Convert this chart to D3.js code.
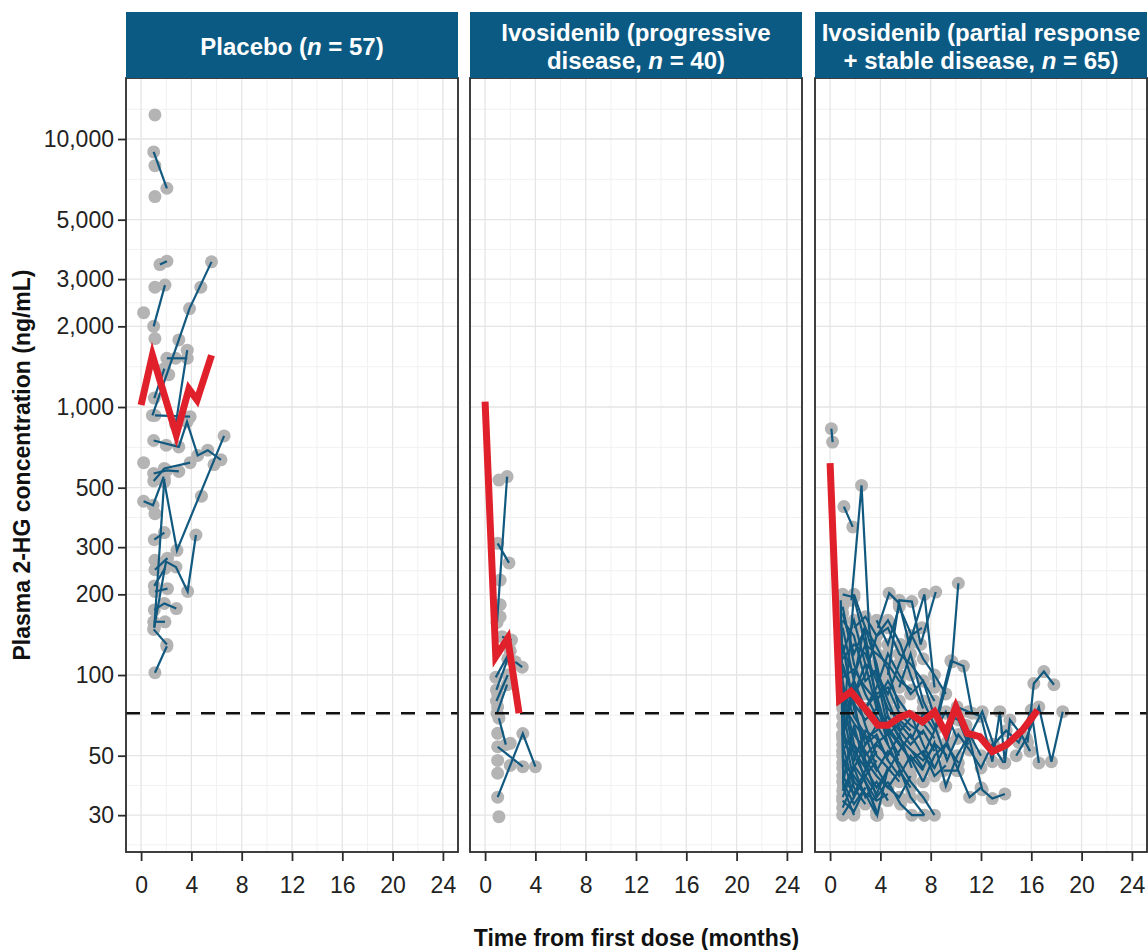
<!DOCTYPE html>
<html>
<head>
<meta charset="utf-8">
<script src="https://cdn.jsdelivr.net/npm/d3@7"></script>
<style>
  body { margin: 0; background: #fff; }
  text { font-family: "Liberation Sans", Arial, sans-serif; }
</style>
</head>
<body>
<svg id="chart" width="1148" height="950"></svg>
<script>
// Strip labels: odd parts are italic.
const stripLabels = [
  [["Placebo (", "n", " = 57)"]],
  [["Ivosidenib (progressive"], ["disease, ", "n", " = 40)"]],
  [["Ivosidenib (partial response"], ["+ stable disease, ", "n", " = 65)"]]
];

const xTicks = [0, 4, 8, 12, 16, 20, 24];
const yTicks = [30, 50, 100, 200, 300, 500, 1000, 2000, 3000, 5000, 10000];
const threshold = 72;

// Individual patients: [month, ng/mL]
const placeboSubjects = [
  [[1.1, 12300]],
  [[1.0, 8950], [2.05, 6550]],
  [[1.1, 7950]],
  [[1.1, 6100]],
  [[1.5, 3400], [2.05, 3500]],
  [[1.0, 2000], [1.9, 2850]],
  [[1.1, 2800]],
  [[0.2, 2250]],
  [[0.9, 930], [3.0, 1780], [3.85, 2330], [5.6, 3480]],
  [[4.75, 2800]],
  [[1.1, 1800]],
  [[1.05, 1080], [1.85, 1390]],
  [[2.75, 860], [3.67, 1630]],
  [[2.05, 1520], [2.75, 1520], [3.67, 1520]],
  [[2.2, 1320]],
  [[1.1, 930], [3.9, 920]],
  [[1.0, 750], [3.0, 710], [3.65, 880], [4.5, 660], [5.3, 690], [6.35, 635]],
  [[1.85, 525], [2.85, 292], [6.6, 780]],
  [[5.8, 610]],
  [[0.2, 620]],
  [[0.2, 445], [0.95, 430], [1.8, 550]],
  [[1.0, 530], [1.85, 590], [3.9, 620]],
  [[1.0, 565], [2.05, 580], [3.0, 575]],
  [[2.0, 720]],
  [[1.05, 150], [1.85, 540]],
  [[1.05, 151], [1.98, 265], [2.77, 253], [3.7, 205], [4.36, 333]],
  [[1.05, 320], [1.85, 340]],
  [[1.05, 215], [1.9, 250]],
  [[1.05, 175], [1.85, 185], [2.8, 177]],
  [[1.0, 158], [1.9, 158]],
  [[1.0, 148], [2.05, 130]],
  [[1.1, 102], [2.05, 128]],
  [[4.8, 465]],
  [[1.1, 400]],
  [[1.1, 247], [2.1, 273]],
  [[1.1, 205], [2.1, 210]],
  [[1.1, 268]]
];

const pdSubjects = [
  [[0.95, 157], [1.75, 550]],
  [[1.1, 534]],
  [[1.0, 310], [1.9, 262]],
  [[1.2, 226]],
  [[1.2, 183]],
  [[1.2, 165]],
  [[1.35, 139], [2.1, 135]],
  [[0.85, 98], [2.0, 123]],
  [[0.9, 88], [1.8, 115]],
  [[0.9, 80], [1.8, 100]],
  [[0.95, 72], [1.75, 92]],
  [[2.4, 112], [2.95, 107]],
  [[1.1, 69], [1.65, 55]],
  [[1.0, 54], [3.0, 45.5]],
  [[1.0, 35], [3.0, 60.5], [4.0, 45.5]],
  [[1.0, 60.6]],
  [[1.0, 48]],
  [[1.0, 43]],
  [[1.1, 29.6]],
  [[1.0, 76]],
  [[1.0, 85]],
  [[2.0, 46]],
  [[2.0, 55.6]]
];

const prsdSubjects = [
  [[0.1, 830], [0.2, 740]],
  [[1.1, 425], [1.8, 357]],
  [[1.7, 190], [2.5, 510], [3.1, 150], [3.9, 90], [4.7, 60]],
  [[1.0, 200], [1.9, 195], [2.8, 130], [3.7, 80], [4.6, 55]],
  [[0.85, 190], [1.05, 60], [2.7, 150], [3.5, 90], [4.4, 65], [5.4, 48]],
  [[1.0, 170], [1.9, 120], [2.8, 150], [3.7, 110], [4.6, 70], [5.6, 58]],
  [[3.8, 150], [4.7, 202], [5.5, 185], [6.3, 130], [7.5, 200], [8.3, 90]],
  [[4.6, 100], [5.5, 190], [6.5, 188], [7.2, 130], [8.4, 204]],
  [[1.0, 60], [1.9, 200], [2.8, 150], [3.6, 130], [4.6, 105], [5.5, 75]],
  [[7.4, 50], [8.3, 62], [9.7, 112], [10.2, 220]],
  [[8.5, 70], [9.6, 113], [10.6, 108], [11.3, 72]],
  [[1.0, 180], [1.9, 110], [2.8, 85], [3.7, 70], [4.6, 60], [5.5, 50]],
  [[1.0, 160], [1.9, 140], [2.8, 95], [3.7, 105], [4.6, 80], [5.6, 62], [6.5, 70], [7.4, 55], [8.3, 45]],
  [[0.9, 140], [1.05, 60], [1.9, 90], [2.8, 65], [3.7, 50], [4.6, 45], [5.5, 40]],
  [[1.0, 130], [1.9, 75], [2.8, 55], [3.7, 60], [4.6, 48]],
  [[1.0, 120], [1.9, 160], [2.8, 110], [3.7, 75], [4.6, 62], [5.5, 55], [6.5, 48], [7.4, 40]],
  [[1.0, 110], [1.9, 80], [2.8, 48], [3.7, 35], [4.6, 40]],
  [[0.9, 100], [1.05, 40], [1.9, 65], [2.8, 45], [3.7, 55], [4.6, 50], [5.5, 60], [6.5, 45]],
  [[1.0, 95], [1.9, 55], [2.8, 40], [3.7, 31]],
  [[1.0, 90], [1.9, 70], [2.8, 60], [3.7, 45], [4.6, 38], [5.5, 35], [6.4, 42]],
  [[1.0, 85], [1.9, 50], [2.8, 42], [3.7, 48]],
  [[1.0, 80], [1.9, 95], [2.8, 72], [3.7, 65], [4.6, 70], [5.5, 58], [6.5, 52], [7.4, 48], [8.4, 55], [9.3, 50]],
  [[1.0, 75], [1.9, 45], [2.8, 35], [3.7, 40], [4.6, 34]],
  [[1.0, 70], [1.9, 60], [2.8, 52], [3.7, 44], [4.6, 52], [5.5, 47], [6.4, 40], [7.4, 35], [8.3, 30]],
  [[1.0, 65], [1.9, 40], [2.8, 36], [3.7, 34]],
  [[1.0, 60], [1.9, 52], [2.8, 45], [3.7, 38], [4.6, 44], [5.5, 52], [6.4, 60], [7.4, 50], [8.3, 45], [9.2, 55], [10.2, 47]],
  [[1.0, 55], [1.9, 38], [2.8, 33]],
  [[1.0, 52], [1.9, 62], [2.8, 50], [3.7, 56], [4.6, 60], [5.5, 66], [6.5, 58], [7.4, 72], [8.3, 62], [9.2, 73], [10.1, 58]],
  [[1.0, 50], [1.9, 35], [2.8, 42], [3.7, 36], [4.6, 45]],
  [[1.0, 47], [1.9, 42], [2.8, 36], [3.7, 30]],
  [[1.0, 45], [1.9, 55], [2.8, 48], [3.7, 42], [4.6, 38], [5.5, 44], [6.4, 38]],
  [[1.0, 42], [1.9, 36], [2.8, 44], [3.7, 52]],
  [[1.0, 40], [1.9, 33], [2.8, 38]],
  [[1.0, 37], [1.9, 46], [2.8, 40], [3.7, 34], [4.6, 36]],
  [[1.0, 34], [1.9, 31], [2.8, 38]],
  [[1.0, 32], [1.9, 40], [2.8, 36]],
  [[1.0, 30], [1.9, 35]],
  [[0.9, 160], [1.05, 38], [1.9, 30]],
  [[2.8, 40], [3.75, 30], [4.6, 45]],
  [[4.6, 40], [5.6, 33], [6.5, 30], [7.5, 30]],
  [[8.3, 75], [9.3, 56], [10.1, 76], [11.0, 73], [12.0, 70], [12.9, 47.5], [13.5, 73], [13.9, 47], [14.3, 68], [15.2, 60], [15.9, 52]],
  [[9.0, 44], [10.1, 44], [11.0, 58], [12.1, 73], [13.0, 55], [14.0, 62], [15.0, 56], [16.0, 74], [16.6, 47]],
  [[15.7, 56], [16.2, 93], [17.0, 103], [17.8, 92]],
  [[14.8, 50], [15.6, 58], [16.6, 76], [17.6, 47.5], [18.5, 73]],
  [[10.8, 65], [12.1, 37.3], [12.9, 34.6], [13.9, 36]],
  [[5.5, 90], [6.4, 120], [7.4, 80], [8.3, 65], [9.3, 48], [10.2, 60], [11.1, 52.5], [12.0, 45], [12.9, 55], [13.8, 47]],
  [[6.5, 52], [7.4, 45], [8.3, 56], [9.2, 38.5], [10.1, 50], [11.1, 60], [12.0, 50]],
  [[2.8, 75], [3.7, 90], [4.6, 120], [5.5, 100], [6.4, 85], [7.4, 95], [8.3, 70], [9.2, 72], [10.2, 68], [11.0, 55]],
  [[1.0, 60], [1.9, 85], [2.8, 100], [3.7, 140], [4.6, 160], [5.6, 130], [6.4, 100], [7.4, 75]],
  [[3.7, 160], [4.6, 130], [5.5, 180], [6.5, 140], [7.4, 115], [8.3, 100], [9.2, 85]],
  [[1.0, 150], [1.9, 95], [2.8, 75], [3.7, 85], [4.6, 90], [5.5, 72], [6.4, 65], [7.4, 60]],
  [[7.4, 40], [8.3, 50], [9.3, 56], [10.2, 44], [11.1, 35], [12.0, 38]],
  [[1.0, 35], [1.9, 45], [2.8, 55], [3.7, 65], [4.6, 55], [5.5, 45], [6.4, 35], [7.5, 30]],
  [[1.0, 115], [1.9, 130], [2.8, 120], [3.7, 95], [4.6, 75], [5.5, 68], [6.4, 62]],
  [[1.0, 98], [1.9, 105], [2.8, 90], [3.7, 80], [4.6, 95], [5.5, 80], [6.4, 70], [7.4, 66], [8.3, 58]],
  [[1.0, 125], [1.9, 100], [2.8, 130], [3.7, 120], [4.6, 110], [5.5, 95], [6.5, 88]],
  [[1.9, 150], [2.8, 165], [3.7, 140], [4.6, 150], [5.5, 120], [6.4, 110], [7.4, 95], [8.3, 80]],
  [[1.0, 105], [1.9, 85], [2.8, 110], [3.7, 100], [4.6, 85], [5.5, 110], [6.4, 140], [7.3, 150]],
  [[1.0, 88], [1.9, 78], [2.8, 68], [3.7, 75], [4.6, 64], [5.5, 56], [6.4, 48], [7.4, 52], [8.3, 42], [9.2, 46]],
  [[1.0, 78], [1.9, 66], [2.8, 58], [3.7, 62], [4.6, 70], [5.5, 62], [6.4, 55], [7.4, 62], [8.3, 52]],
  [[1.0, 58], [1.9, 48], [2.8, 62], [3.7, 58], [4.6, 48], [5.5, 42], [6.4, 50], [7.4, 44]]
];

// Median lines
const placeboMedian = [[0, 1018], [0.9, 1560], [2.8, 787], [3.8, 1169], [4.45, 1062], [5.6, 1560]];
const pdMedian = [[0, 1047], [0.85, 117], [1.8, 137], [2.7, 72]];
const prsdMedian = [[0, 617], [0.75, 80.7], [1.65, 86.7], [3.0, 72.9], [3.8, 64.9], [4.6, 64.9], [5.4, 68.9],
  [6.3, 71.9], [7.35, 66.9], [8.3, 72.9], [9.2, 60.6], [10.0, 76.1], [10.9, 60.6], [11.9, 58.9],
  [12.9, 51.8], [14.0, 54.8], [15.3, 62.3], [16.5, 74]];

const subjects = [placeboSubjects, pdSubjects, prsdSubjects];
const medians = [placeboMedian, pdMedian, prsdMedian];

// Layout
const panelLefts = [126, 470, 815];
const panelW = 332;
const stripTop = 12, panelTop = 78, panelBottom = 852;

const svg = d3.select("#chart");
const x = d3.scaleLinear().domain([-1.2, 25.2]).range([0, panelW]);
const y = d3.scaleLog().domain([21.86, 16890]).range([panelBottom, panelTop]);

// minor breaks, ggplot style: midpoints in transformed space, extended one step past the ends
function minorBreaks(b, tf, inv) {
  const t = b.map(tf);
  const d = t[1] - t[0];
  const ext = [t[0] - d].concat(t, [t[t.length - 1] + d]);
  const out = [];
  for (let i = 0; i < ext.length - 1; i++) out.push(inv((ext[i] + ext[i + 1]) / 2));
  return out;
}
const yMinor = minorBreaks(yTicks, Math.log10, v => Math.pow(10, v))
  .filter(v => v > y.domain()[0] && v < y.domain()[1]);
const xMinor = minorBreaks(xTicks, v => v, v => v)
  .filter(v => v > x.domain()[0] && v < x.domain()[1]);

const line = d3.line().x(d => x(d[0])).y(d => y(d[1]));

panelLefts.forEach((left, i) => {
  const g = svg.append("g").attr("transform", "translate(" + left + ",0)");

  g.append("rect").attr("x", 0).attr("y", panelTop).attr("width", panelW)
    .attr("height", panelBottom - panelTop).attr("fill", "#fff");

  // grid
  g.selectAll(".ymin").data(yMinor).enter().append("line")
    .attr("x1", 0).attr("x2", panelW).attr("y1", d => y(d)).attr("y2", d => y(d))
    .attr("stroke", "#EFEFEF").attr("stroke-width", 0.9);
  g.selectAll(".xmin").data(xMinor).enter().append("line")
    .attr("y1", panelTop).attr("y2", panelBottom).attr("x1", d => x(d)).attr("x2", d => x(d))
    .attr("stroke", "#EFEFEF").attr("stroke-width", 0.9);
  g.selectAll(".ymaj").data(yTicks).enter().append("line")
    .attr("x1", 0).attr("x2", panelW).attr("y1", d => y(d)).attr("y2", d => y(d))
    .attr("stroke", "#E5E5E5").attr("stroke-width", 1.3);
  g.selectAll(".xmaj").data(xTicks).enter().append("line")
    .attr("y1", panelTop).attr("y2", panelBottom).attr("x1", d => x(d)).attr("x2", d => x(d))
    .attr("stroke", "#E5E5E5").attr("stroke-width", 1.3);

  // points
  const pts = subjects[i].flat();
  g.selectAll(".pt").data(pts).enter().append("circle")
    .attr("cx", d => x(d[0])).attr("cy", d => y(d[1])).attr("r", 6.5)
    .attr("fill", "#B4B4B4");

  // individual lines
  g.selectAll(".subj").data(subjects[i].filter(s => s.length > 1)).enter().append("path")
    .attr("d", line).attr("fill", "none").attr("stroke", "#12597F").attr("stroke-width", 2.2);

  // threshold
  g.append("line").attr("x1", 0).attr("x2", panelW)
    .attr("y1", y(threshold)).attr("y2", y(threshold))
    .attr("stroke", "#111").attr("stroke-width", 2.6).attr("stroke-dasharray", "14,11");

  // median
  g.append("path").attr("d", line(medians[i])).attr("fill", "none")
    .attr("stroke", "#E0202A").attr("stroke-width", 7).attr("stroke-linejoin", "miter");

  // border
  g.append("rect").attr("x", 0).attr("y", panelTop).attr("width", panelW)
    .attr("height", panelBottom - panelTop).attr("fill", "none")
    .attr("stroke", "#2b2b2b").attr("stroke-width", 1.8);

  // strip
  g.append("rect").attr("x", 0).attr("y", stripTop).attr("width", panelW)
    .attr("height", panelTop - stripTop).attr("fill", "#0B5A83");
  const lines = stripLabels[i];
  const mid = (stripTop + panelTop) / 2;
  lines.forEach((parts, k) => {
    const ty = mid + (k - (lines.length - 1) / 2) * 28 + 10;
    const t = g.append("text").attr("x", panelW / 2).attr("y", ty)
      .attr("text-anchor", "middle").attr("fill", "#fff")
      .attr("font-size", 24).attr("font-weight", "bold");
    parts.forEach((p, j) => {
      t.append("tspan").text(p).attr("font-style", j % 2 ? "italic" : "normal");
    });
  });

  // x axis
  const ax = g.append("g").attr("transform", "translate(0," + panelBottom + ")")
    .call(d3.axisBottom(x).tickValues(xTicks).tickSize(9).tickPadding(16).tickFormat(d3.format("d")));
  ax.select(".domain").remove();
  ax.selectAll("line").attr("stroke", "#2b2b2b").attr("stroke-width", 1.8);
  ax.selectAll("text").attr("font-size", 23).attr("fill", "#222")
    .attr("font-family", "Liberation Sans, Arial, sans-serif");

  if (i === 0) {
    const ay = g.append("g")
      .call(d3.axisLeft(y).tickValues(yTicks).tickSize(8).tickPadding(4).tickFormat(d3.format(",")));
    ay.select(".domain").remove();
    ay.selectAll("line").attr("stroke", "#2b2b2b").attr("stroke-width", 1.8);
    ay.selectAll("text").attr("font-size", 23).attr("fill", "#222")
      .attr("font-family", "Liberation Sans, Arial, sans-serif");
  }
});

// axis titles
svg.append("text").attr("x", (panelLefts[0] + panelLefts[2] + panelW) / 2).attr("y", 946)
  .attr("text-anchor", "middle").attr("font-size", 23).attr("font-weight", "bold")
  .attr("fill", "#111").text("Time from first dose (months)");
svg.append("text").attr("transform", "translate(30," + (panelTop + panelBottom) / 2 + ") rotate(-90)")
  .attr("text-anchor", "middle").attr("font-size", 23).attr("font-weight", "bold")
  .attr("fill", "#111").text("Plasma 2-HG concentration (ng/mL)");
</script>
</body>
</html>
